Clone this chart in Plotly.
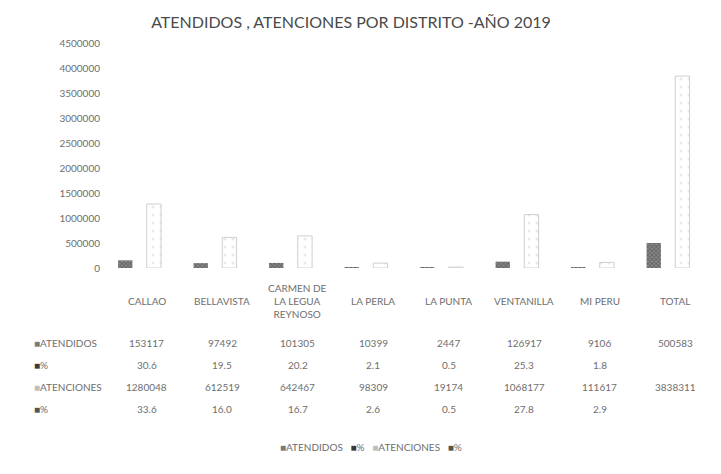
import plotly.graph_objects as go

districts = ["CALLAO", "BELLAVISTA", "CARMEN DE<br>LA LEGUA<br>REYNOSO", "LA PERLA",
             "LA PUNTA", "VENTANILLA", "MI PERU", "TOTAL"]
atendidos = [153117, 97492, 101305, 10399, 2447, 126917, 9106, 500583]
pct_atendidos = [30.6, 19.5, 20.2, 2.1, 0.5, 25.3, 1.8, None]
atenciones = [1280048, 612519, 642467, 98309, 19174, 1068177, 111617, 3838311]
pct_atenciones = [33.6, 16.0, 16.7, 2.6, 0.5, 27.8, 2.9, None]
series_names = ["ATENDIDOS", "%", "ATENCIONES", "%"]
yticks = list(range(0, 4500001, 500000))

FONT = "Lato, Open Sans, sans-serif"
OFF = 8  # page body margin
W, H = 721 - OFF, 474 - OFF
ML, MR, MT, MB = 109 - OFF, 8, 43 - OFF, H - (268 - OFF)
PW, PH = W - ML - MR, H - MT - MB

C_ATD = "#7a7a7a"
C_P1 = "#3a3a3a"
C_ATC = "#bdbdbd"
C_P2 = "#555555"
TCOL = "#6e6e6e"


def py(pix):
    return (H - MB - (pix - OFF)) / PH


def px(pix):
    return (pix - OFF - ML) / PW


idx = list(range(len(districts)))
fig = go.Figure()
fig.add_bar(x=idx, y=atendidos, name=series_names[0],
            marker=dict(color="#8a8a8a", line=dict(width=0),
                        pattern=dict(shape="x", fgcolor="#3a3a3a", size=3, solidity=0.5)))
fig.add_bar(x=idx, y=pct_atendidos, name=series_names[1],
            marker=dict(color=C_P1, line=dict(width=0)))
fig.add_bar(x=idx, y=atenciones, name=series_names[2],
            marker=dict(color="rgba(255,255,255,0)", line=dict(width=1, color="#cfcfcf"),
                        pattern=dict(shape=".", fgcolor="#d4d4d4", bgcolor="rgba(255,255,255,0)",
                                     size=8, solidity=0.12)))
fig.add_bar(x=idx, y=pct_atenciones, name=series_names[3],
            marker=dict(color=C_P2, line=dict(width=0)))

annotations = []
# district labels (category axis row of the data table)
for i, d in enumerate(districts):
    annotations.append(dict(x=i, y=py(301), xref="x", yref="paper", text=d, showarrow=False,
                            xanchor="center", yanchor="middle",
                            font=dict(family=FONT, size=10, color=TCOL), align="center"))
rows = [(series_names[0], atendidos, 343, C_ATD),
        (series_names[1], pct_atendidos, 365, C_P1),
        (series_names[2], atenciones, 387, C_ATC),
        (series_names[3], pct_atenciones, 409, C_P2)]
for label, vals, ypix, kc in rows:
    annotations.append(dict(x=px(32), y=py(ypix), xref="paper", yref="paper", xanchor="left",
                            yanchor="middle",
                            text=f"<span style='color:{kc}'>■</span>{label}", showarrow=False,
                            font=dict(family=FONT, size=10, color=TCOL)))
    for i, v in enumerate(vals):
        if v is None:
            continue
        txt = f"{v:.1f}" if isinstance(v, float) else f"{v}"
        annotations.append(dict(x=i, y=py(ypix), xref="x", yref="paper", text=txt, showarrow=False,
                                xanchor="center", yanchor="middle",
                                font=dict(family=FONT, size=10, color=TCOL)))

# legend line
key_cols = [C_ATD, C_P1, C_ATC, C_P2]
legend_txt = "&nbsp;&nbsp;&nbsp;".join(
    f"<span style='color:{c}'>■</span>{n}" for c, n in zip(key_cols, series_names))
annotations.append(dict(x=px(371), y=py(447), xref="paper", yref="paper", xanchor="center",
                        yanchor="middle", text=legend_txt, showarrow=False,
                        font=dict(family=FONT, size=10, color=TCOL)))

fig.update_layout(
    width=W, height=H, margin=dict(l=ML, r=MR, t=MT, b=MB),
    paper_bgcolor="white", plot_bgcolor="white",
    barmode="group", bargap=0.24, bargroupgap=0,
    showlegend=False,
    title=dict(text="ATENDIDOS , ATENCIONES POR DISTRITO -AÑO 2019",
               x=(351 - OFF) / W, xanchor="center",
               y=1 - (22 - OFF) / H, yanchor="middle",
               font=dict(family=FONT, size=16, color="#4a4a4a")),
    xaxis=dict(range=[-0.5, 7.5], showticklabels=False, showgrid=False, zeroline=False,
               showline=False, ticks=""),
    yaxis=dict(range=[0, 4500000], tickvals=yticks, ticktext=[str(t) for t in yticks],
               showgrid=False, zeroline=False, showline=False, ticklabelstandoff=8,
               tickfont=dict(family=FONT, size=10, color=TCOL)),
    annotations=annotations,
)
fig.write_html("out.html")
